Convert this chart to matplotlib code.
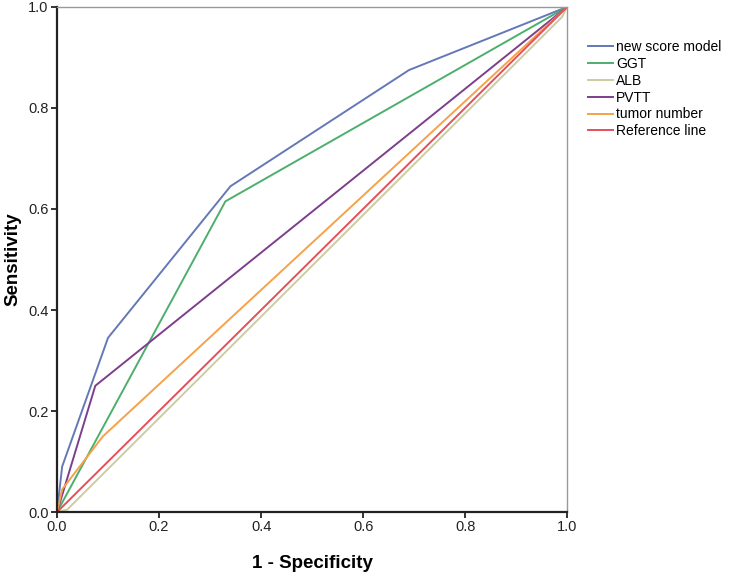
import matplotlib
matplotlib.use("Agg")
import matplotlib.pyplot as plt

plt.rcParams["font.family"] = ["Liberation Sans", "DejaVu Sans"]

# ROC curves (1 - specificity, sensitivity)
new_x = [0, 0.01, 0.10, 0.34, 0.69, 1.0]
new_y = [0, 0.09, 0.345, 0.645, 0.875, 1.0]
ggt_x = [0, 0.33, 1.0]
ggt_y = [0, 0.615, 1.0]
alb_x = [0, 0.02, 0.99, 1.0]
alb_y = [0, 0.005, 0.98, 1.0]
pvtt_x = [0, 0.075, 1.0]
pvtt_y = [0, 0.25, 1.0]
tum_x = [0, 0.01, 0.09, 1.0]
tum_y = [0, 0.045, 0.15, 1.0]
ref_x = [0, 1.0]
ref_y = [0, 1.0]

fig = plt.figure(figsize=(7.35, 5.76), dpi=100)
ax = fig.add_axes([0.0776, 0.111, 0.694, 0.877])

lw = 1.4
ax.plot(new_x, new_y, color="#6478b8", lw=lw, label="new score model")
ax.plot(ggt_x, ggt_y, color="#4caf6c", lw=lw, label="GGT")
ax.plot(alb_x, alb_y, color="#cfcba0", lw=lw, label="ALB")
ax.plot(pvtt_x, pvtt_y, color="#7d3f8c", lw=lw, label="PVTT")
ax.plot(tum_x, tum_y, color="#f5a24a", lw=lw, label="tumor number")
ax.plot(ref_x, ref_y, color="#e3505a", lw=lw, label="Reference line")

ax.set_xlim(0, 1)
ax.set_ylim(0, 1)
ticks = [0.0, 0.2, 0.4, 0.6, 0.8, 1.0]
ax.set_xticks(ticks)
ax.set_yticks(ticks)
ax.set_xticklabels([f"{t:.1f}" for t in ticks])
ax.set_yticklabels([f"{t:.1f}" for t in ticks])
ax.tick_params(direction="out", length=4, width=1.3, labelsize=10.5, colors="#222222", pad=2)

for s in ["left", "bottom"]:
    ax.spines[s].set_linewidth(1.6)
    ax.spines[s].set_color("#222222")
for s in ["top", "right"]:
    ax.spines[s].set_linewidth(1.0)
    ax.spines[s].set_color("#999999")

ax.set_xlabel("1 - Specificity", fontsize=13.5, fontweight="bold", labelpad=15)
ax.set_ylabel("Sensitivity", fontsize=13.5, fontweight="bold", labelpad=5)

ax.legend(loc="upper left", bbox_to_anchor=(1.03, 0.945), frameon=False,
          fontsize=10, handlelength=1.8, handletextpad=0.2, labelspacing=0.2,
          borderaxespad=0)

fig.savefig("out.png", dpi=100)
